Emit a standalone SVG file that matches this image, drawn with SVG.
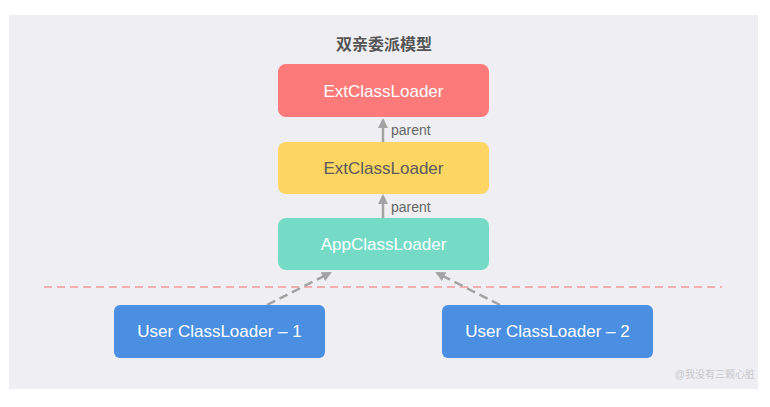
<svg xmlns="http://www.w3.org/2000/svg" width="770" height="407" viewBox="0 0 770 407">
<defs>
<style>
.lbl{font-family:"Liberation Sans","Noto Sans CJK SC",Arial,sans-serif;font-size:17px;text-anchor:middle;dominant-baseline:central}
.small{font-family:"Liberation Sans","Noto Sans CJK SC",Arial,sans-serif;font-size:14px;fill:#666}
.conn{stroke:#a3a3a3;stroke-width:2.5;fill:none}
</style>
<marker id="ah" viewBox="0 0 10 10" refX="8" refY="5" markerWidth="4" markerHeight="4" orient="auto">
<path d="M0,0 L10,5 L0,10 z" fill="#a3a3a3"/>
</marker>
</defs>
<rect x="0" y="0" width="770" height="407" fill="#ffffff"/>
<rect x="9" y="15" width="749" height="374" fill="#efeff3"/>
<text x="384" y="44" class="lbl" style="fill:#555;font-weight:bold;font-size:16px">双亲委派模型</text>
<line x1="44" y1="287" x2="722" y2="287" stroke="#f59a9a" stroke-width="1.5" stroke-dasharray="8,5"/>
<g id="connectors">
<line class="conn" x1="383" y1="142" x2="383" y2="120" marker-end="url(#ah)"/>
<text x="391" y="135" class="small">parent</text>
<line class="conn" x1="383" y1="218" x2="383" y2="196" marker-end="url(#ah)"/>
<text x="391" y="212" class="small">parent</text>
<line class="conn" x1="267" y1="305" x2="330" y2="273" stroke-dasharray="9,5" marker-end="url(#ah)"/>
<line class="conn" x1="500" y1="305" x2="437" y2="273" stroke-dasharray="9,5" marker-end="url(#ah)"/>
</g>
<g id="ext-red">
<rect x="278" y="64" width="211" height="53" rx="8" fill="#fd7a7a"/>
<text x="383.5" y="91" class="lbl" fill="#ffffff">ExtClassLoader</text>
</g>
<g id="ext-yellow">
<rect x="278" y="142" width="211" height="52" rx="8" fill="#fcd562"/>
<text x="383.5" y="168" class="lbl" fill="#5a5a5a">ExtClassLoader</text>
</g>
<g id="app">
<rect x="278" y="218" width="211" height="52" rx="8" fill="#75dbc7"/>
<text x="383.5" y="244" class="lbl" fill="#ffffff">AppClassLoader</text>
</g>
<g id="user1">
<rect x="114" y="305" width="211" height="53" rx="6" fill="#4a8fe2"/>
<text x="219.5" y="331.5" class="lbl" fill="#ffffff">User ClassLoader – 1</text>
</g>
<g id="user2">
<rect x="442" y="305" width="211" height="53" rx="6" fill="#4a8fe2"/>
<text x="547.5" y="331.5" class="lbl" fill="#ffffff">User ClassLoader – 2</text>
</g>
<text x="755" y="378" style="font-family:'Liberation Sans','Noto Sans CJK SC',sans-serif;font-size:10px;fill:#c8c8cc;text-anchor:end">@我没有三颗心脏</text>
</svg>
